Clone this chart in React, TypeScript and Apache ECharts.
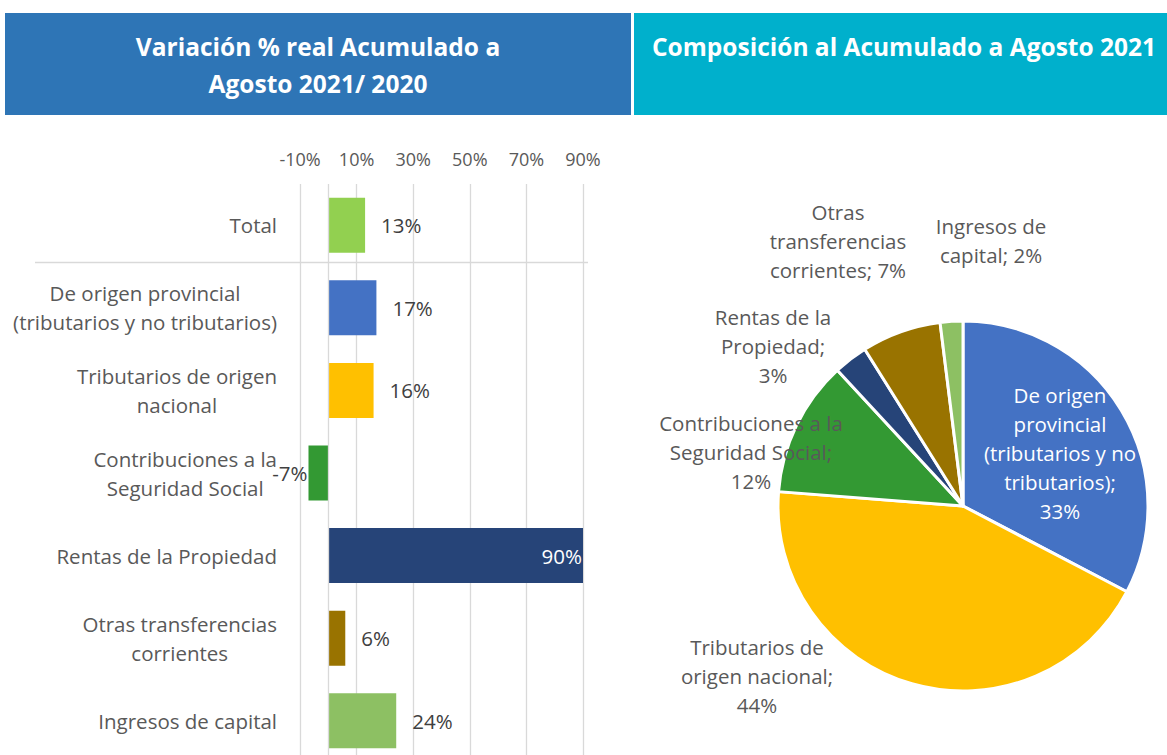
import React, { useEffect, useRef } from "react";
import * as echarts from "echarts";

const FONT = "Open Sans";

// Bar chart data
const categories = [
  "Total",
  "De origen provincial\n(tributarios y no tributarios)",
  "Tributarios de origen\nnacional",
  "Contribuciones a la\nSeguridad Social",
  "Rentas de la Propiedad",
  "Otras transferencias\ncorrientes",
  "Ingresos de capital",
];
const variation = [13, 17, 16, -7, 90, 6, 24];
const barColors = ["#92D050", "#4472C4", "#FFC000", "#339933", "#264478", "#997300", "#8DC063"];
const xTickLabels = ["-10%", "10%", "30%", "50%", "70%", "90%"];

// Pie chart data
const pieNames = [
  "De origen provincial (tributarios y no tributarios)",
  "Tributarios de origen nacional",
  "Contribuciones a la Seguridad Social",
  "Rentas de la Propiedad",
  "Otras transferencias corrientes",
  "Ingresos de capital",
];
const pieValues = [33, 44, 12, 3, 7, 2];
const pieColors = ["#4472C4", "#FFC000", "#339933", "#264478", "#997300", "#8DC063"];
const pieLabelTemplates = [
  "De origen\nprovincial\n(tributarios y no\ntributarios);\n{v}",
  "Tributarios de\norigen nacional;\n{v}",
  "Contribuciones a la\nSeguridad Social;\n{v}",
  "Rentas de la\nPropiedad;\n{v}",
  "Otras\ntransferencias\ncorrientes; {v}",
  "Ingresos de\ncapital; {v}",
];

const pieLabelPos = [
  [1060, 453],
  [757, 676],
  [751, 452],
  [773, 346],
  [838, 241],
  [991, 240],
];

const LABEL_SIZE = 20.5;

export default function App() {
  const ref = useRef<HTMLDivElement>(null);
  useEffect(() => {
    if (!ref.current) return;
    const chart = echarts.init(ref.current, null, { renderer: "svg" });
    const grid = "#D9D9D9";
    const option: any = {
      animation: false,
      textStyle: { fontFamily: FONT },
      graphic: [
        { type: "rect", shape: { x: 5, y: 13, width: 626, height: 102 }, style: { fill: "#2E75B6" } },
        { type: "rect", shape: { x: 634, y: 13, width: 533, height: 102 }, style: { fill: "#00B0CC" } },
        {
          type: "text",
          x: 318,
          y: 64.5,
          style: {
            text: "Variación % real Acumulado a\nAgosto 2021/ 2020",
            fill: "#fff",
            font: `bold 24.5px ${FONT}`,
            align: "center",
            verticalAlign: "middle",
            lineHeight: 37,
          },
        },
        {
          type: "text",
          x: 652,
          y: 46,
          style: {
            text: "Composición al Acumulado a Agosto 2021",
            fill: "#fff",
            font: `bold 24.5px ${FONT}`,
            align: "left",
            verticalAlign: "middle",
          },
        },
        {
          type: "line",
          shape: { x1: 35, y1: 262.5, x2: 588, y2: 262.5 },
          style: { stroke: grid, lineWidth: 1.3 },
        },
      ],
      grid: { left: 300, right: 584, top: 184, height: 578 },
      xAxis: [
        { type: "value", min: -10, max: 90, show: false, position: "bottom" },
        {
          type: "value",
          min: 0,
          max: 100,
          interval: 20,
          position: "top",
          axisLine: { show: false },
          axisTick: { show: false },
          splitLine: { show: true, lineStyle: { color: grid, width: 1.3 } },
          axisLabel: {
            formatter: (_v: number, i: number) => xTickLabels[i],
            color: "#595959",
            fontSize: 18,
            margin: 16,
            fontFamily: FONT,
          },
        },
      ],
      yAxis: {
        type: "category",
        data: categories,
        inverse: true,
        axisLine: { show: false },
        axisTick: { show: false },
        splitLine: { show: false },
        axisLabel: {
          margin: 23,
          formatter: (v: string) =>
            v
              .split("\n")
              .map((l) => `{c|${l}}`)
              .join("\n"),
          rich: {
            c: { align: "center", fontSize: LABEL_SIZE, lineHeight: 29, color: "#595959", fontFamily: FONT },
          },
        },
      },
      series: [
        {
          type: "bar",
          xAxisIndex: 0,
          barWidth: 55,
          data: variation.map((v, i) => {
            const d: any = { value: v, itemStyle: { color: barColors[i] } };
            if (v < 0) d.label = { position: "left", distance: 1 };
            if (v >= 90) d.label = { position: "insideRight", distance: 1, color: "#fff" };
            return d;
          }),
          label: {
            show: true,
            position: "right",
            distance: 16,
            formatter: "{c}%",
            fontSize: LABEL_SIZE,
            color: "#404040",
            fontFamily: FONT,
          },
          markLine: {
            silent: true,
            symbol: "none",
            label: { show: false },
            lineStyle: { color: grid, type: "solid", width: 1.3 },
            data: [{ xAxis: 0 }],
          },
        },
        {
          type: "pie",
          center: [963, 506],
          radius: 185,
          startAngle: 90,
          clockwise: true,
          avoidLabelOverlap: false,
          itemStyle: { borderColor: "#fff", borderWidth: 3 },
          label: {
            show: true,
            position: "outside",
            color: "#595959",
            fontSize: LABEL_SIZE,
            lineHeight: 29,
            fontFamily: FONT,
            formatter: (p: any) => pieLabelTemplates[p.dataIndex].replace("{v}", `${p.value}%`),
          },
          labelLine: { show: false },
          labelLayout: (p: any) => ({
            x: pieLabelPos[p.dataIndex][0],
            y: pieLabelPos[p.dataIndex][1],
            align: "center",
            verticalAlign: "middle",
          }),
          data: pieNames.map((n, i) => ({
            name: n,
            value: pieValues[i],
            itemStyle: { color: pieColors[i] },
            label: i === 0 ? { color: "#fff" } : undefined,
          })),
        },
      ],
    };
    chart.setOption(option);
    return () => chart.dispose();
  }, []);
  return (
    <div style={{ position: "absolute", left: 0, top: 0, width: 1167, height: 755, overflow: "hidden" }}>
      <div ref={ref} style={{ width: 1167, height: 775 }} />
    </div>
  );
}
